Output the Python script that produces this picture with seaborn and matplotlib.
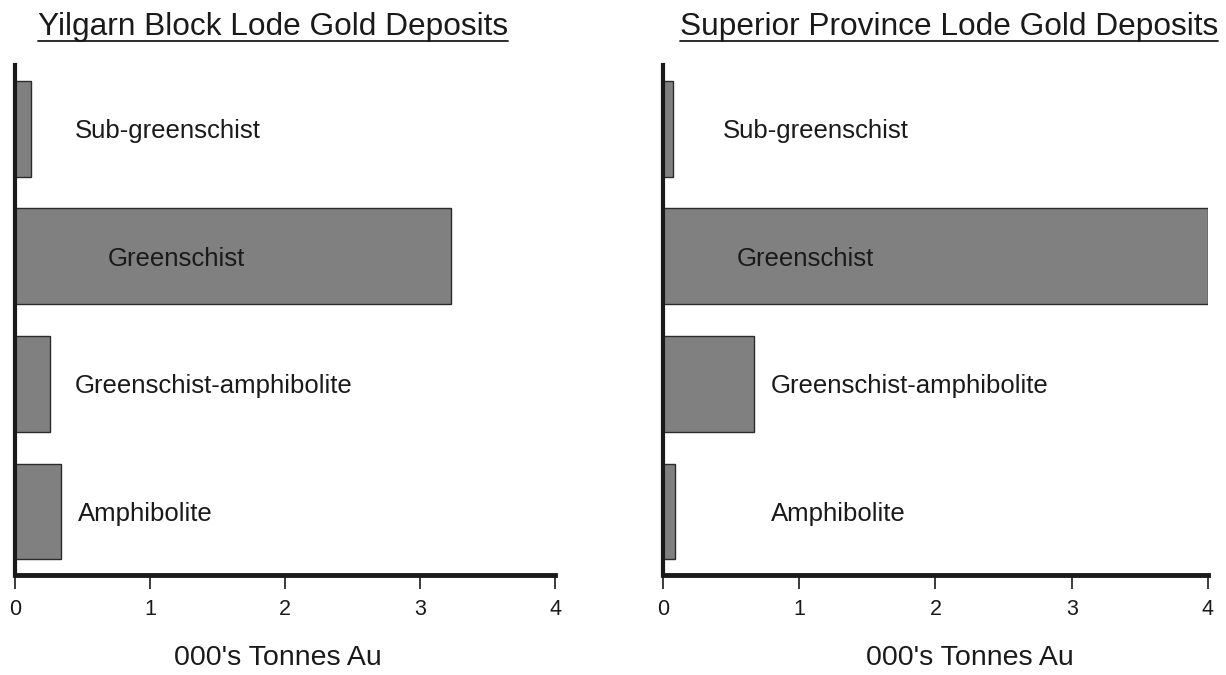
# gold deposits by metamorphic grade - two horizontal bar panels
import numpy as np
import pandas as pd
import seaborn as sns
import matplotlib.pyplot as plt
from matplotlib.lines import Line2D

# data
grades = ['Sub-greenschist', 'Greenschist', 'Greenschist-amphibolite', 'Amphibolite']
yilgarn_tonnes = [0.12, 3.23, 0.26, 0.34]
superior_tonnes = [0.07, 4.0, 0.67, 0.09]
titles = ['Yilgarn Block Lode Gold Deposits', 'Superior Province Lode Gold Deposits']
xticks = [0, 1, 2, 3, 4]
xlabel = "000's Tonnes Au"

# where the grade names sit inside each panel (data units)
label_x = [[0.44, 0.69, 0.44, 0.47],
           [0.44, 0.54, 0.79, 0.79]]

sns.set_style('white')
plt.rcParams['font.family'] = ['Liberation Sans', 'DejaVu Sans']
plt.rcParams['xtick.bottom'] = True
plt.rcParams['xtick.direction'] = 'out'

fig = plt.figure(figsize=(12.26, 6.75), dpi=100)
ax1 = fig.add_axes([0.0122, 0.148, 0.4405, 0.7557])
ax2 = fig.add_axes([0.5408, 0.148, 0.4445, 0.7557])

title_x = [0.2225, 0.774]
xlabel_x = [0.487, 0.563]

for k, (ax, vals) in enumerate(zip([ax1, ax2], [yilgarn_tonnes, superior_tonnes])):
    df = pd.DataFrame({'grade': grades, 'tonnes': vals})
    sns.barplot(data=df, x='tonnes', y='grade', orient='h', color='#808080',
                saturation=1, edgecolor='#2b2b2b', linewidth=1.0, width=0.75, ax=ax)
    ax.set_xlim(0, 4)
    ax.set_ylim(3.5, -0.5)
    ax.set_xticks(xticks)
    ax.set_xticklabels([str(t) for t in xticks], fontsize=15.5, color='#1a1a1a')
    ax.set_yticks([])
    ax.set_ylabel('')
    ax.set_xlabel(xlabel, fontsize=20.5, color='#1a1a1a', va='top')
    ax.xaxis.set_label_coords(xlabel_x[k], -0.137)
    ax.tick_params(axis='x', which='major', bottom=True, direction='out',
                   length=10, width=1.2, color='#1a1a1a', pad=7)
    for s in ['top', 'right']:
        ax.spines[s].set_visible(False)
    ax.spines['left'].set_linewidth(3)
    ax.spines['bottom'].set_linewidth(3.5)
    ax.spines['left'].set_color('#1a1a1a')
    ax.spines['bottom'].set_color('#1a1a1a')
    ax.patch.set_alpha(0)
    for i, g in enumerate(grades):
        ax.text(label_x[k][i], i + 0.02, g, fontsize=18.5, va='center', ha='left',
                color='#1a1a1a')

# titles with underline
title_texts = []
for k, t in enumerate(titles):
    title_texts.append(fig.text(title_x[k], 0.948, t, fontsize=22.8, ha='center',
                                va='baseline', color='#1a1a1a'))

fig.canvas.draw()
r = fig.canvas.get_renderer()
for tt in title_texts:
    bb = tt.get_window_extent(renderer=r)
    y = (bb.y0 + 1) / fig.bbox.height
    fig.add_artist(Line2D([bb.x0 / fig.bbox.width, bb.x1 / fig.bbox.width], [y, y],
                          color='#1a1a1a', linewidth=1.3, transform=fig.transFigure))

plt.savefig('out.png', dpi=100)
